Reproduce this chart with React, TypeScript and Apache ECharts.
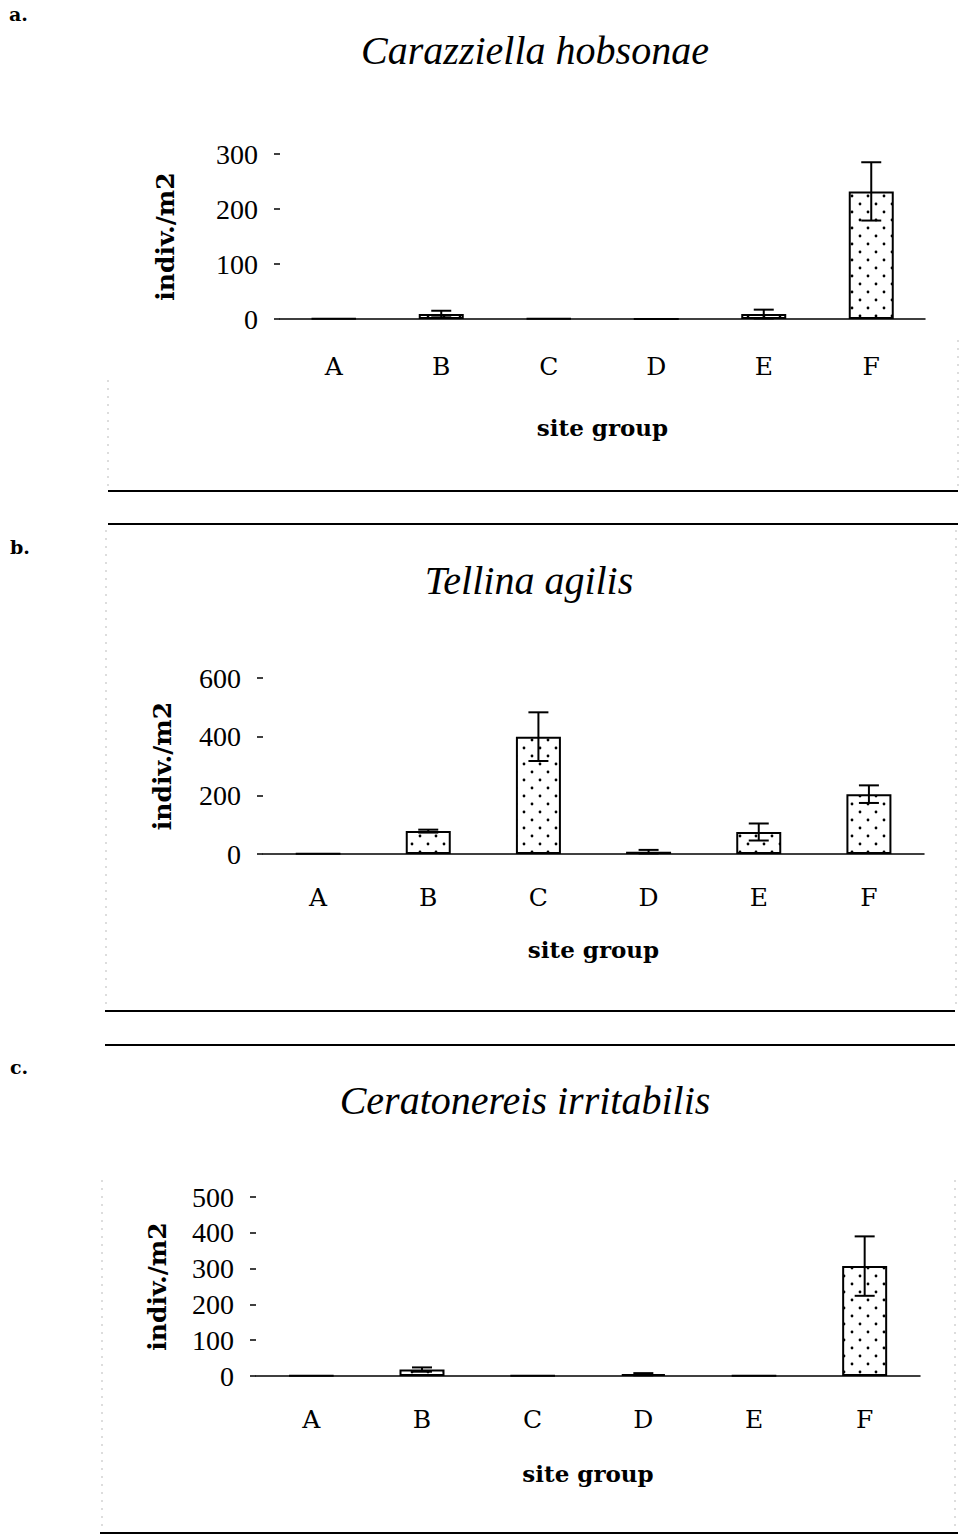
import React, { useEffect, useRef } from "react";
import * as echarts from "echarts";

const categories = ["A", "B", "C", "D", "E", "F"];

const titleA = "Carazziella hobsonae";
const meansA = [1, 9, 1, 0, 9, 232];
const errsA = [0, 6, 0, 0, 8, 53];
const yMaxA = 300;
const yStepA = 100;

const titleB = "Tellina agilis";
const meansB = [1, 78, 400, 8, 75, 204];
const errsB = [0, 5, 83, 6, 29, 30];
const yMaxB = 600;
const yStepB = 200;

const titleC = "Ceratonereis irritabilis";
const meansC = [1, 18, 1, 5, 1, 307];
const errsC = [0, 6, 0, 3, 0, 83];
const yMaxC = 500;
const yStepC = 100;

const panelLetters = ["a.", "b.", "c."];
const xName = "site group";
const yName = "indiv./m2";

function makePattern(): HTMLCanvasElement {
  const c = document.createElement("canvas");
  c.width = 16;
  c.height = 16;
  const ctx = c.getContext("2d")!;
  ctx.fillStyle = "#fff";
  ctx.fillRect(0, 0, 16, 16);
  ctx.fillStyle = "#000";
  ctx.beginPath();
  ctx.arc(4, 4, 1.4, 0, Math.PI * 2);
  ctx.fill();
  ctx.beginPath();
  ctx.arc(12, 12, 1.4, 0, Math.PI * 2);
  ctx.fill();
  return c;
}

export default function App() {
  const ref = useRef<HTMLDivElement>(null);
  useEffect(() => {
    if (!ref.current) return;
    const chart = echarts.init(ref.current, null, { renderer: "svg" });
    const pattern = { image: makePattern(), repeat: "repeat" } as any;

    const grids = [
      { left: 280, top: 154, width: 645, height: 165 },
      { left: 263, top: 678, width: 661, height: 176 },
      { left: 256, top: 1197, width: 664, height: 179 },
    ];
    const means = [meansA, meansB, meansC];
    const errs = [errsA, errsB, errsC];
    const maxes = [yMaxA, yMaxB, yMaxC];
    const steps = [yStepA, yStepB, yStepC];
    const labelMargins = [35, 31, 31];
    const xNameGaps = [97, 84, 86];
    const yNameGaps = [102, 88, 86];

    const xAxes = grids.map((_, i) => ({
      type: "category",
      gridIndex: i,
      data: categories,
      axisLine: { show: true, lineStyle: { color: "#000", width: 1.5 } },
      axisTick: { show: false },
      axisLabel: {
        color: "#000",
        fontFamily: "DejaVu Serif",
        fontSize: 25,
        margin: labelMargins[i],
      },
      name: xName,
      nameLocation: "middle",
      nameGap: xNameGaps[i],
      nameTextStyle: {
        color: "#000",
        fontFamily: "DejaVu Serif",
        fontWeight: "bold",
        fontSize: 23,
      },
      splitLine: { show: false },
    }));

    const yAxes = grids.map((_, i) => ({
      type: "value",
      gridIndex: i,
      min: 0,
      max: maxes[i],
      interval: steps[i],
      axisLine: { show: false },
      axisTick: { show: true, length: 6, lineStyle: { color: "#000", width: 1.5 } },
      axisLabel: {
        color: "#000",
        fontFamily: "Liberation Serif",
        fontSize: 28,
        margin: 22,
      },
      splitLine: { show: false },
      name: yName,
      nameLocation: "middle",
      nameGap: yNameGaps[i],
      nameRotate: 90,
      nameTextStyle: {
        color: "#000",
        fontFamily: "DejaVu Serif",
        fontWeight: "bold",
        fontSize: 25,
      },
    }));

    const series: any[] = [];
    grids.forEach((_, i) => {
      series.push({
        type: "bar",
        xAxisIndex: i,
        yAxisIndex: i,
        data: means[i],
        barWidth: 45,
        itemStyle: { color: pattern, borderColor: "#000", borderWidth: 2 },
        z: 2,
      });
      series.push({
        type: "custom",
        xAxisIndex: i,
        yAxisIndex: i,
        z: 3,
        encode: { x: 0, y: [1, 2] },
        data: means[i]
          .map((m, k) => [k, Math.max(0, m - errs[i][k]), m + errs[i][k], errs[i][k]])
          .filter((d) => d[3] > 0),
        renderItem: (params: any, api: any) => {
          const x = api.value(0);
          const top = api.coord([x, api.value(2)]);
          const bot = api.coord([x, api.value(1)]);
          const cap = 10;
          const st = { stroke: "#000", lineWidth: 2 };
          return {
            type: "group",
            children: [
              { type: "line", shape: { x1: top[0], y1: top[1], x2: bot[0], y2: bot[1] }, style: st },
              { type: "line", shape: { x1: top[0] - cap, y1: top[1], x2: top[0] + cap, y2: top[1] }, style: st },
              { type: "line", shape: { x1: bot[0] - cap, y1: bot[1], x2: bot[0] + cap, y2: bot[1] }, style: st },
            ],
          };
        },
      });
    });

    const hLine = (x1: number, x2: number, y: number) => ({
      type: "line",
      shape: { x1, y1: y, x2, y2: y },
      style: { stroke: "#000", lineWidth: 2 },
    });
    const vDots = (x: number, y1: number, y2: number) => ({
      type: "line",
      shape: { x1: x, y1, x2: x, y2 },
      style: { stroke: "#bbb", lineWidth: 1, lineDash: [2, 6] },
    });
    const titleText = (text: string, x: number, y: number) => ({
      type: "text",
      x,
      y,
      style: {
        text,
        fill: "#000",
        font: "italic 40px 'Liberation Serif'",
        textAlign: "center",
        textVerticalAlign: "middle",
      },
    });
    const letter = (text: string, x: number, y: number) => ({
      type: "text",
      x,
      y,
      style: {
        text,
        fill: "#000",
        font: "bold 19px 'DejaVu Serif'",
        textAlign: "left",
        textVerticalAlign: "middle",
      },
    });

    chart.setOption({
      animation: false,
      backgroundColor: "#fff",
      grid: grids,
      xAxis: xAxes,
      yAxis: yAxes,
      series,
      graphic: [
        letter(panelLetters[0], 9, 14),
        letter(panelLetters[1], 10, 547),
        letter(panelLetters[2], 10, 1067),
        titleText(titleA, 535, 50),
        titleText(titleB, 529, 580),
        titleText(titleC, 525, 1100),
        hLine(108, 958, 491),
        hLine(108, 958, 524),
        hLine(105, 955, 1011),
        hLine(105, 955, 1045),
        hLine(100, 958, 1533),
        vDots(108, 380, 488),
        vDots(958, 340, 488),
        vDots(106, 530, 1005),
        vDots(956, 530, 1005),
        vDots(102, 1180, 1530),
        vDots(955, 1180, 1530),
      ],
    });
    return () => chart.dispose();
  }, []);
  return (
    <div
      ref={ref}
      style={{ position: "absolute", left: 0, top: 0, width: 961, height: 1538 }}
    />
  );
}
